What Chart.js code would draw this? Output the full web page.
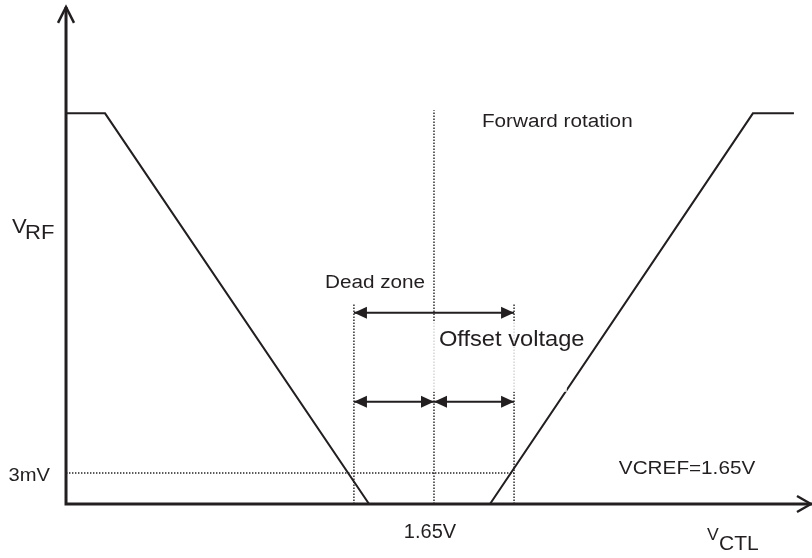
<!DOCTYPE html>
<html>
<head>
<meta charset="utf-8">
<script src="https://cdn.jsdelivr.net/npm/chart.js@4.4.1/dist/chart.umd.min.js"></script>
<style>
  html, body { margin: 0; padding: 0; background: #fff; }
  #container { width: 812px; height: 558px; }
</style>
</head>
<body>
<div id="container"><canvas id="myChart" width="812" height="558"></canvas></div>
<script>
// x = V_CTL (volts), y = V_RF (mV)
const curveVctl = [0, 0.175, 1.359, 1.901, 3.080, 3.264];
const curveVrf  = [37.8, 37.8, 0, 0, 37.8, 37.8];

// dotted guides: dead zone start, VCREF, dead zone end
const guideVctl = [1.291, 1.65, 2.009];
const guideTop  = [19.4, 38.1, 19.4];
const thresholdVrf = 3;

// dimension arrows
const arrowFrom = [1.291, 1.291, 1.65];
const arrowTo   = [2.009, 1.65, 2.009];
const arrowVrf  = [18.5, 9.9, 9.9];

const xTicks = [1.65];
const xTickLabels = ['1.65V'];
const yTicks = [3];
const yTickLabels = ['3mV'];

const axisEndVctl = 3.345;
const axisTopVrf = 48.1;

const INK = '#231f20';
const FONT = '"Liberation Sans", Arial, sans-serif';

// gaps between separate segments
const gap = x => ({ x: x, y: null });

const guidePts = [];
guideVctl.forEach((v, i) => {
    guidePts.push({ x: v, y: 0 }, { x: v, y: guideTop[i] }, gap(v));
});
guidePts.push({ x: 0, y: thresholdVrf }, { x: guideVctl[2], y: thresholdVrf });

const shaftPts = [];
arrowFrom.forEach((v, i) => {
    shaftPts.push({ x: v, y: arrowVrf[i] }, { x: arrowTo[i], y: arrowVrf[i] }, gap(v));
});

const notes = [
    { t: 'Forward rotation', x: 1.865, y: 36.5, size: 18, sx: 1.15 },
    { t: 'Dead zone', x: 1.161, y: 20.9, size: 18, sx: 1.15 },
    { t: 'Offset voltage', x: 1.672, y: 15.3, size: 22, sx: 1.076 },
    { t: 'VCREF=1.65V', x: 2.479, y: 2.9, size: 18, sx: 1.15 }
];

function text(ctx, s, px, py, size, sx, align) {
    ctx.save();
    ctx.font = size + 'px ' + FONT;
    ctx.textBaseline = 'alphabetic';
    const w = ctx.measureText(s).width * sx;
    let left = px;
    if (align === 'right') left = px - w;
    if (align === 'center') left = px - w / 2;
    ctx.translate(left, py);
    ctx.scale(sx, 1);
    ctx.fillText(s, 0, 0);
    ctx.restore();
}

const decor = {
    id: 'decor',
    // the offset voltage label sits on a white box that hides part of the guides
    afterDatasetDraw(chart, args) {
        if (args.index !== 1) return;
        const ctx = chart.ctx;
        const n = notes[2];
        const px = chart.scales.x.getPixelForValue(n.x);
        const py = chart.scales.y.getPixelForValue(n.y);
        ctx.save();
        ctx.fillStyle = 'rgba(255,255,255,0.8)';
        ctx.fillRect(px - 6, py - 24, 134, 70);
        ctx.restore();
    },
    afterDatasetsDraw(chart) {
        const ctx = chart.ctx;
        const xs = chart.scales.x, ys = chart.scales.y;
        const X = v => xs.getPixelForValue(v);
        const Y = v => ys.getPixelForValue(v);
        ctx.save();
        ctx.fillStyle = INK;
        ctx.strokeStyle = INK;

        // filled heads on the dimension arrows
        const head = (tipX, y, dir) => {
            ctx.beginPath();
            ctx.moveTo(tipX, y);
            ctx.lineTo(tipX - dir * 13, y - 6);
            ctx.lineTo(tipX - dir * 13, y + 6);
            ctx.closePath();
            ctx.fill();
        };
        arrowFrom.forEach((v, i) => {
            const y = Y(arrowVrf[i]);
            head(X(v), y, -1);
            head(X(arrowTo[i]), y, 1);
        });

        // open chevrons on the axis ends
        ctx.lineWidth = 2.5;
        ctx.lineJoin = 'miter';
        const ox = X(0), oy = Y(0);
        const ty = Y(axisTopVrf);
        ctx.beginPath();
        ctx.moveTo(ox - 8, ty + 16);
        ctx.lineTo(ox, ty);
        ctx.lineTo(ox + 8, ty + 16);
        ctx.stroke();
        const ex = X(axisEndVctl) - 1;
        ctx.beginPath();
        ctx.moveTo(ex - 14, oy - 8);
        ctx.lineTo(ex, oy);
        ctx.lineTo(ex - 14, oy + 8);
        ctx.stroke();

        // tick labels
        yTicks.forEach((v, i) => text(ctx, yTickLabels[i], ox - 16, Y(v) + 8, 18, 1.12, 'right'));
        xTicks.forEach((v, i) => text(ctx, xTickLabels[i], X(v) - 4, oy + 34, 20, 1.0, 'center'));

        // annotations
        notes.forEach(n => text(ctx, n.t, X(n.x), Y(n.y), n.size, n.sx, 'left'));

        // axis titles with subscripts
        text(ctx, 'V', 12, Y(26.2), 21, 1.05, 'left');
        text(ctx, 'RF', 25, Y(26.2) + 6, 21, 1.05, 'left');
        text(ctx, 'V', X(2.874), oy + 36, 16, 1.1, 'left');
        text(ctx, 'CTL', X(2.874) + 12, oy + 46, 20, 1.05, 'left');

        ctx.restore();
    }
};

const line = (data, width, dash) => ({
    data: data,
    borderColor: INK,
    borderWidth: width,
    borderDash: dash || [],
    pointRadius: 0,
    tension: 0,
    spanGaps: false,
    fill: false
});

new Chart(document.getElementById('myChart').getContext('2d'), {
    type: 'line',
    data: {
        datasets: [
            line([{ x: 0, y: axisTopVrf }, { x: 0, y: 0 }, { x: axisEndVctl, y: 0 }], 3),
            line(guidePts, 1.4, [1.4, 1.6]),
            line(shaftPts, 2),
            line(curveVctl.map((x, i) => ({ x: x, y: curveVrf[i] })), 2)
        ]
    },
    options: {
        responsive: false,
        animation: false,
        layout: { padding: 0 },
        scales: {
            x: { type: 'linear', display: false, min: -0.296, max: 3.345 },
            y: { type: 'linear', display: false, min: -5.226, max: 48.77 }
        },
        plugins: {
            legend: { display: false },
            tooltip: { enabled: false }
        }
    },
    plugins: [decor]
});
</script>
</body>
</html>
